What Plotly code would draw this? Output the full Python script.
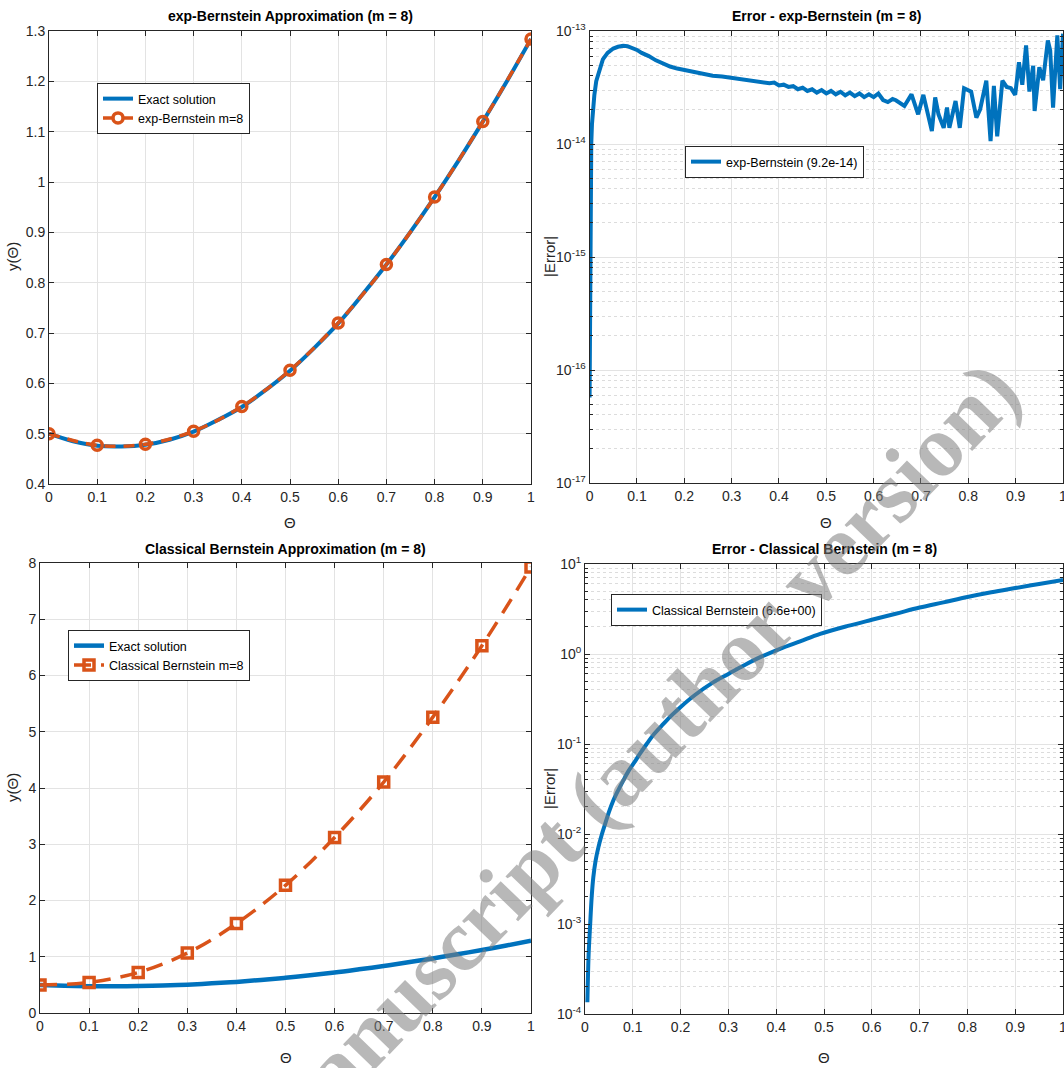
import plotly.graph_objects as go

# ---------------- data ----------------
theta_exact = [0.0, 0.05, 0.1, 0.15, 0.2, 0.25, 0.3, 0.35, 0.4, 0.45, 0.5,
               0.55, 0.6, 0.65, 0.7, 0.75, 0.8, 0.85, 0.9, 0.95, 1.0]
y_exact = [0.500, 0.485, 0.476, 0.4745, 0.478, 0.488, 0.504, 0.527, 0.553, 0.587, 0.625,
           0.670, 0.719, 0.776, 0.836, 0.901, 0.970, 1.043, 1.120, 1.200, 1.284]

theta_nodes = [0.0, 0.1, 0.2, 0.3, 0.4, 0.5, 0.6, 0.7, 0.8, 0.9, 1.0]
y_expb = [0.500, 0.477, 0.479, 0.505, 0.554, 0.626, 0.720, 0.836, 0.970, 1.120, 1.284]
y_classical = [0.497, 0.544, 0.72, 1.065, 1.59, 2.27, 3.12, 4.106, 5.26, 6.53, 7.93]

theta_err1 = [0.0, 0.0005, 0.001, 0.002, 0.0035, 0.005, 0.007, 0.01, 0.014, 0.02,
              0.028, 0.038, 0.05, 0.06, 0.071, 0.08, 0.09, 0.1, 0.11, 0.125,
              0.14, 0.156, 0.17, 0.185, 0.2, 0.22, 0.24, 0.26, 0.28, 0.3,
              0.32, 0.34, 0.36, 0.38, 0.39, 0.4, 0.41, 0.42, 0.43, 0.44,
              0.45, 0.46, 0.47, 0.48, 0.49, 0.5, 0.51, 0.52, 0.53, 0.54,
              0.55, 0.56, 0.57, 0.58, 0.59, 0.6, 0.61, 0.62, 0.63, 0.64,
              0.647, 0.655, 0.665, 0.68, 0.694, 0.705, 0.723, 0.73, 0.737, 0.748,
              0.755, 0.76, 0.773, 0.782, 0.791, 0.806, 0.817, 0.825, 0.838, 0.847,
              0.854, 0.861, 0.872, 0.881, 0.89, 0.899, 0.907, 0.914, 0.922, 0.929,
              0.937, 0.94, 0.95, 0.958, 0.968, 0.973, 0.979, 0.988, 0.994, 1.0]
err1 = [5.7e-17, 2e-16, 8e-16, 3.5e-15, 1.0e-14, 1.5e-14, 2.0e-14, 2.7e-14, 3.6e-14, 4.5e-14,
        5.6e-14, 6.4e-14, 7.0e-14, 7.25e-14, 7.4e-14, 7.35e-14, 7.1e-14, 6.8e-14, 6.4e-14, 6.0e-14,
        5.5e-14, 5.1e-14, 4.85e-14, 4.65e-14, 4.5e-14, 4.3e-14, 4.15e-14, 4.02e-14, 3.95e-14, 3.85e-14,
        3.75e-14, 3.7e-14, 3.55e-14, 3.45e-14, 3.5e-14, 3.3e-14, 3.35e-14, 3.2e-14, 3.25e-14, 3.05e-14,
        3.15e-14, 2.95e-14, 3.05e-14, 2.85e-14, 3.0e-14, 2.8e-14, 2.95e-14, 2.75e-14, 2.9e-14, 2.7e-14,
        2.85e-14, 2.65e-14, 2.8e-14, 2.6e-14, 2.75e-14, 2.6e-14, 2.8e-14, 2.45e-14, 2.35e-14, 2.5e-14,
        2.44e-14, 2.3e-14, 2.17e-14, 2.75e-14, 1.83e-14, 2.72e-14, 1.30e-14, 2.58e-14, 1.83e-14, 1.39e-14,
        2.1e-14, 1.39e-14, 2.4e-14, 1.39e-14, 3.12e-14, 2.91e-14, 1.71e-14, 2.03e-14, 3.63e-14, 1.06e-14,
        3.27e-14, 1.17e-14, 3.63e-14, 3.2e-14, 3.12e-14, 2.72e-14, 5.28e-14, 3.34e-14, 7.45e-14, 2.91e-14,
        4.93e-14, 1.96e-14, 4.77e-14, 3.67e-14, 8.26e-14, 6.71e-14, 2.1e-14, 9.15e-14, 3.06e-14, 9.47e-14]

theta_err2 = [0.005, 0.0075, 0.0105, 0.014, 0.0174, 0.022, 0.028, 0.035, 0.042, 0.05,
              0.059, 0.07, 0.08, 0.09, 0.101, 0.115, 0.129, 0.145, 0.164, 0.18,
              0.199, 0.23, 0.268, 0.3, 0.338, 0.37, 0.408, 0.45, 0.492, 0.55,
              0.6, 0.65, 0.7, 0.75, 0.8, 0.85, 0.9, 0.95, 1.0]
err2 = [1.35e-4, 4.5e-4, 9.2e-4, 2.0e-3, 3.3e-3, 5.0e-3, 7.1e-3, 9.8e-3, 1.29e-2, 1.75e-2,
        2.34e-2, 3.1e-2, 3.92e-2, 4.9e-2, 6.0e-2, 7.8e-2, 0.1, 0.13, 0.167, 0.205,
        0.255, 0.35, 0.484, 0.6, 0.774, 0.94, 1.14, 1.38, 1.67, 2.05,
        2.4, 2.8, 3.28, 3.75, 4.3, 4.85, 5.4, 6.0, 6.64]

x_ticks = [0, 0.1, 0.2, 0.3, 0.4, 0.5, 0.6, 0.7, 0.8, 0.9, 1]
x_ticklabels = ["0", "0.1", "0.2", "0.3", "0.4", "0.5", "0.6", "0.7", "0.8", "0.9", "1"]
y1_ticks = [0.4, 0.5, 0.6, 0.7, 0.8, 0.9, 1.0, 1.1, 1.2, 1.3]
y1_ticklabels = ["0.4", "0.5", "0.6", "0.7", "0.8", "0.9", "1", "1.1", "1.2", "1.3"]
y3_ticks = [0, 1, 2, 3, 4, 5, 6, 7, 8]
exp1 = [-17, -16, -15, -14, -13]
exp2 = [-4, -3, -2, -1, 0, 1]

titles = ["exp-Bernstein Approximation (m = 8)", "Error - exp-Bernstein (m = 8)",
          "Classical Bernstein Approximation (m = 8)", "Error - Classical Bernstein (m = 8)"]

# ---------------- style ----------------
BLUE = "#0072BD"
ORANGE = "#D95319"
FONT = "Liberation Sans Narrow, Arial Narrow, Liberation Sans, Arial"
TXT = "#262626"
GRID = "#e3e3e3"
W, H = 1064, 1068

def px_x(p):
    return p / W

def px_y(p):
    return 1 - p / H

fig = go.Figure()

# Top-left
fig.add_trace(go.Scatter(x=theta_exact, y=y_exact, mode="lines", line=dict(color=BLUE, width=4, shape="spline"),
                         name="Exact solution", xaxis="x", yaxis="y", legend="legend"))
fig.add_trace(go.Scatter(x=theta_nodes, y=y_expb, mode="lines+markers",
                         line=dict(color=ORANGE, width=3.5, dash="11px,8px", shape="spline"),
                         marker=dict(symbol="circle-open", size=10, color=ORANGE, line=dict(width=3.5, color=ORANGE)),
                         name="exp-Bernstein m=8", xaxis="x", yaxis="y", legend="legend"))
# Top-right
fig.add_trace(go.Scatter(x=theta_err1, y=err1, mode="lines", line=dict(color=BLUE, width=4),
                         name="exp-Bernstein (9.2e-14)", xaxis="x2", yaxis="y2", legend="legend2"))
# Bottom-left
fig.add_trace(go.Scatter(x=theta_exact, y=y_exact, mode="lines", line=dict(color=BLUE, width=4.5, shape="spline"),
                         name="Exact solution", xaxis="x3", yaxis="y3", legend="legend3"))
fig.add_trace(go.Scatter(x=theta_nodes, y=y_classical, mode="lines+markers",
                         line=dict(color=ORANGE, width=3.5, dash="17px,10px", shape="spline"),
                         marker=dict(symbol="square-open", size=10, color=ORANGE, line=dict(width=3.5, color=ORANGE)),
                         name="Classical Bernstein m=8", xaxis="x3", yaxis="y3", legend="legend3"))
# Bottom-right
fig.add_trace(go.Scatter(x=theta_err2, y=err2, mode="lines", line=dict(color=BLUE, width=4, shape="spline"),
                         name="Classical Bernstein (6.6e+00)", xaxis="x4", yaxis="y4", legend="legend4"))

tickfont = dict(family=FONT, size=14, color=TXT)
TITLEFONT = dict(family=FONT, size=15, color=TXT)

def xaxis(domain, anchor):
    return dict(domain=domain, anchor=anchor, range=[0, 1], tickvals=x_ticks, ticktext=x_ticklabels,
                showgrid=True, gridcolor=GRID, gridwidth=1, zeroline=False, automargin=False,
                showline=True, linecolor=TXT, linewidth=1, mirror="ticks", ticklabeloverflow="allow",
                ticks="inside", ticklen=5, tickcolor=TXT, tickfont=tickfont)

def yaxis_common(domain, anchor):
    return dict(domain=domain, anchor=anchor, showgrid=True, gridcolor=GRID, gridwidth=1, zeroline=False,
                automargin=False, showline=True, linecolor=TXT, linewidth=1, mirror="ticks",
                ticklabeloverflow="allow",
                ticks="inside", ticklen=5, tickcolor=TXT, tickfont=tickfont)

def minor_vals(exps):
    return [k * 10.0 ** e for e in exps[:-1] for k in range(2, 10)]

dom_tl_x = [px_x(49), px_x(531)]
dom_tl_y = [px_y(484), px_y(31)]
dom_tr_x = [px_x(589.6), px_x(1063)]
dom_tr_y = [px_y(483), px_y(31)]
dom_bl_x = [px_x(40), px_x(531)]
dom_bl_y = [px_y(1013), px_y(563)]
dom_br_x = [px_x(585), px_x(1063)]
dom_br_y = [px_y(1014), px_y(564)]

y1 = yaxis_common(dom_tl_y, "x")
y1.update(range=[0.4, 1.3], tickvals=y1_ticks, ticktext=y1_ticklabels)

y2 = yaxis_common(dom_tr_y, "x2")
y2.update(type="log", range=[-17, -13], tickvals=[10.0 ** e for e in exp1],
          ticktext=["10<sup>%d</sup>" % e for e in exp1],
          minor=dict(tickvals=minor_vals(exp1), showgrid=True, gridcolor="#dcdcdc", griddash="dot",
                     ticks="inside", ticklen=3, tickcolor=TXT))

y3 = yaxis_common(dom_bl_y, "x3")
y3.update(range=[0, 8], tickvals=y3_ticks, ticktext=[str(v) for v in y3_ticks])

y4 = yaxis_common(dom_br_y, "x4")
y4.update(type="log", range=[-4, 1], tickvals=[10.0 ** e for e in exp2],
          ticktext=["10<sup>%d</sup>" % e for e in exp2],
          minor=dict(tickvals=minor_vals(exp2), showgrid=True, gridcolor="#dcdcdc", griddash="dot",
                     ticks="inside", ticklen=3, tickcolor=TXT))

legend_style = dict(bgcolor="white", bordercolor=TXT, borderwidth=1,
                    font=dict(family=FONT, size=12.5, color="black"),
                    xanchor="left", yanchor="top", tracegroupgap=0, itemwidth=30)

fig.update_layout(
    width=W, height=H, margin=dict(l=0, r=0, t=0, b=0, autoexpand=False),
    paper_bgcolor="white", plot_bgcolor="white",
    xaxis=xaxis(dom_tl_x, "y"), yaxis=y1,
    xaxis2=xaxis(dom_tr_x, "y2"), yaxis2=y2,
    xaxis3=xaxis(dom_bl_x, "y3"), yaxis3=y3,
    xaxis4=xaxis(dom_br_x, "y4"), yaxis4=y4,
    legend=dict(legend_style, x=px_x(97), y=px_y(83)),
    legend2=dict(legend_style, x=px_x(685), y=px_y(146)),
    legend3=dict(legend_style, x=px_x(68), y=px_y(630)),
    legend4=dict(legend_style, x=px_x(611), y=px_y(594)),
    showlegend=True,
)

def note(text, cx, cy, font, angle=0):
    fig.add_annotation(text=text, x=px_x(cx), y=px_y(cy), xref="paper", yref="paper",
                       xanchor="center", yanchor="middle", showarrow=False, textangle=angle, font=font)

title_pos = [((49 + 531) / 2, 16), ((589.6 + 1063) / 2, 16), ((40 + 531) / 2, 549), ((585 + 1063) / 2, 549)]
for t, (cx, cy) in zip(titles, title_pos):
    note("<b>%s</b>" % t, cx, cy, dict(family=FONT, size=14, color="black"))

# axis titles
for cx, cy in [(290, 523), (826, 523), (286, 1057), (824, 1057)]:
    note("Θ", cx, cy, TITLEFONT)
note("y(Θ)", 12, 257, TITLEFONT, -90)
note("y(Θ)", 12, 788, TITLEFONT, -90)
note("|Error|", 549, 257, TITLEFONT, -90)
note("|Error|", 549, 789, TITLEFONT, -90)

# watermark
note("<b>manuscript (author version)</b>", 635, 757,
     dict(family="Liberation Serif, Times New Roman, serif", size=88, color="rgba(125,125,125,0.55)"), -46)

fig.write_html("out.html", config={"displayModeBar": False},
               post_script="document.body.style.margin='0';document.body.style.overflow='hidden';")
